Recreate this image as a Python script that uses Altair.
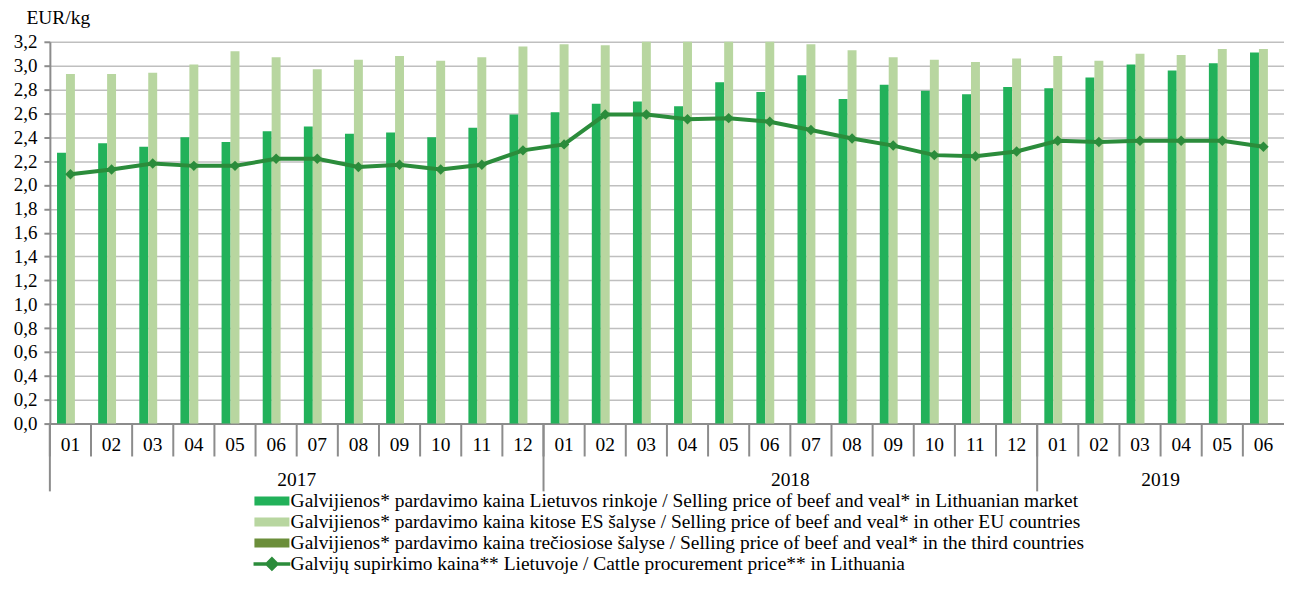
import altair as alt
import pandas as pd

# ---- data ----
years = ["2017"] * 12 + ["2018"] * 12 + ["2019"] * 6
months = ["01", "02", "03", "04", "05", "06", "07", "08", "09", "10", "11", "12",
          "01", "02", "03", "04", "05", "06", "07", "08", "09", "10", "11", "12",
          "01", "02", "03", "04", "05", "06"]
lt_market = [2.27, 2.35, 2.32, 2.40, 2.36, 2.45, 2.49, 2.43, 2.44, 2.40, 2.48, 2.59,
             2.61, 2.68, 2.70, 2.66, 2.86, 2.78, 2.92, 2.72, 2.84, 2.79, 2.76, 2.82,
             2.81, 2.90, 3.01, 2.96, 3.02, 3.11]
other_eu = [2.93, 2.93, 2.94, 3.01, 3.12, 3.07, 2.97, 3.05, 3.08, 3.04, 3.07, 3.16,
            3.18, 3.17, 3.20, 3.20, 3.20, 3.20, 3.18, 3.13, 3.07, 3.05, 3.03, 3.06,
            3.08, 3.04, 3.10, 3.09, 3.14, 3.14]
third_countries = [None] * 30
procurement = [2.09, 2.13, 2.18, 2.16, 2.16, 2.22, 2.22, 2.15, 2.17, 2.13, 2.17, 2.29,
               2.34, 2.59, 2.59, 2.55, 2.56, 2.53, 2.46, 2.39, 2.33, 2.25, 2.24, 2.28,
               2.37, 2.36, 2.37, 2.37, 2.37, 2.32]

bar_series = [
    "Galvijienos* pardavimo kaina Lietuvos rinkoje / Selling price of beef and veal* in Lithuanian market",
    "Galvijienos* pardavimo kaina kitose ES šalyse / Selling price of beef and veal* in other EU countries",
    "Galvijienos* pardavimo kaina trečiosiose šalyse / Selling price of beef and veal* in the third countries",
]
line_series = "Galvijų supirkimo kaina** Lietuvoje / Cattle procurement price** in Lithuania"
bar_colors = ["#22B15A", "#B8D6A0", "#6B8E3A"]
line_color = "#2B8C3B"

y_ticks = [0.0, 0.2, 0.4, 0.6, 0.8, 1.0, 1.2, 1.4, 1.6, 1.8, 2.0, 2.2, 2.4, 2.6, 2.8, 3.0, 3.2]
year_labels = ["2017", "2018", "2019"]
year_label_at = ["2017-06", "2018-06", "2019-03"]
year_starts = ["2017-01", "2018-01", "2019-01"]

# ---- tables ----
keys = [f"{y}-{m}" for y, m in zip(years, months)]
rows = []
for k, a, b, c in zip(keys, lt_market, other_eu, third_countries):
    rows.append({"key": k, "series": bar_series[0], "value": a})
    rows.append({"key": k, "series": bar_series[1], "value": b})
    rows.append({"key": k, "series": bar_series[2], "value": c})
bars_df = pd.DataFrame(rows)
line_df = pd.DataFrame({"key": keys, "value": procurement, "series": line_series})
ticks_df = pd.DataFrame({"key": keys})
ystart_df = pd.DataFrame({"key": year_starts})
ylab_df = pd.DataFrame({"key": year_label_at, "year": year_labels})

W, H = 1238, 383
FONT = "Liberation Serif"
GREY = "#8C8C8C"
FS = 19.5

x_axis = alt.Axis(title=None, labelExpr="split(datum.value, '-')[1]", ticks=False,
                  labelPadding=12, labelFontSize=FS, labelFont=FONT, labelColor="black",
                  domainColor=GREY, domainWidth=2, grid=False, labelAngle=0)
x_scale = alt.Scale(domain=keys, paddingInner=0, paddingOuter=0)


def X(bp=None):
    if bp is None:
        return alt.X("key:N", scale=x_scale, axis=x_axis)
    return alt.X("key:N", scale=x_scale, axis=x_axis, bandPosition=bp)


y_enc = alt.Y("value:Q",
              scale=alt.Scale(domain=[0, 3.2], nice=False, zero=True),
              axis=alt.Axis(title="EUR/kg", titleAngle=0, titleAlign="left",
                            titleBaseline="alphabetic", titleX=-24, titleY=-18,
                            titleFont=FONT, titleFontSize=FS, titleFontWeight="normal",
                            titleColor="black",
                            values=y_ticks,
                            labelExpr="replace(format(datum.value, '.1f'), '.', ',')",
                            labelFont=FONT, labelFontSize=19, labelColor="black",
                            tickSize=6, tickColor=GREY, tickWidth=2,
                            domainColor=GREY, domainWidth=2,
                            grid=True, gridColor="#BFBFBF", gridWidth=1.5,
                            labelPadding=7))

bars = alt.Chart(bars_df).mark_bar().encode(
    x=X(),
    xOffset=alt.XOffset("series:N", scale=alt.Scale(domain=bar_series, paddingOuter=0.8, paddingInner=0)),
    y=y_enc,
    color=alt.Color("series:N",
                    scale=alt.Scale(domain=bar_series, range=bar_colors),
                    legend=alt.Legend(title=None, orient="none", legendX=213, legendY=451,
                                      direction="vertical",
                                      symbolType="M-3.9,-1L3.9,-1L3.9,1L-3.9,1Z",
                                      symbolSize=81, symbolStrokeWidth=0,
                                      labelOffset=9, labelFont=FONT, labelFontSize=FS,
                                      labelColor="black", labelLimit=2000, rowPadding=0)),
)

line = alt.Chart(line_df).mark_line(strokeWidth=4).encode(
    x=X(),
    y=y_enc,
    stroke=alt.Stroke("series:N",
                      scale=alt.Scale(domain=[line_series], range=[line_color]),
                      legend=alt.Legend(title=None, orient="none", legendX=213, legendY=514,
                                        symbolType="M-4.1,0L4.1,0M0,-1.1L1.1,0L0,1.1L-1.1,0Z",
                                        symbolSize=81, symbolStrokeWidth=3.5,
                                        symbolFillColor=line_color,
                                        labelOffset=9, labelFont=FONT, labelFontSize=FS,
                                        labelColor="black", labelLimit=2000)),
)

points = alt.Chart(line_df).mark_point(shape="diamond", filled=True, size=110,
                                       color=line_color, opacity=1).encode(
    x=X(),
    y=y_enc,
)

month_ticks = alt.Chart(ticks_df).mark_rule(color=GREY, strokeWidth=2).encode(
    x=X(0),
    y=alt.value(H),
    y2=alt.value(H + 33),
)

year_rules = alt.Chart(ystart_df).mark_rule(color=GREY, strokeWidth=2).encode(
    x=X(0),
    y=alt.value(H),
    y2=alt.value(H + 68),
)

year_text = alt.Chart(ylab_df).mark_text(font=FONT, fontSize=FS, baseline="middle",
                                         align="center", color="black").encode(
    x=X(1),
    y=alt.value(H + 57),
    text="year:N",
)

chart = alt.layer(bars, line, points, month_ticks, year_rules, year_text).properties(
    width=W, height=H,
    autosize=alt.AutoSizeParams(type="none"),
    padding={"left": 42, "top": 33, "right": 0, "bottom": 150},
    background="white",
).configure_view(stroke=None)

chart.save("out.html", embed_options={"renderer": "svg", "actions": False})
